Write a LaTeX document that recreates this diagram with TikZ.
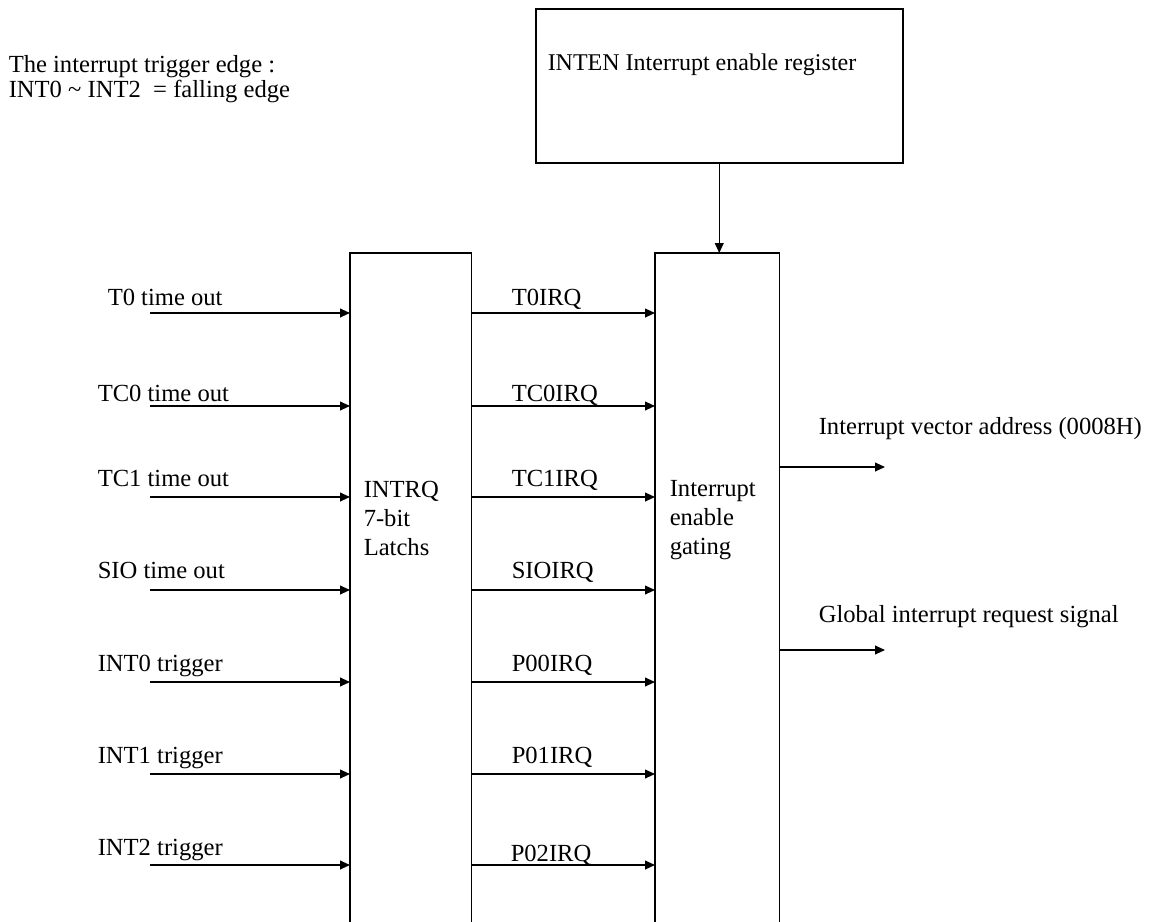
\documentclass[tikz,border=0pt]{standalone}
\usepackage{fontspec}
\setmainfont{Liberation Serif}
\usetikzlibrary{arrows.meta}
\begin{document}
\begin{tikzpicture}[x=0.5pt,y=-0.5pt,
  line width=0.75pt,
  arr/.style={-{Triangle[length=5pt,width=4.4pt]}},
  lbl/.style={anchor=base west, inner sep=0pt, font=\fontsize{12.3}{12.3}\selectfont},
  blk/.style={draw=none, inner sep=0pt, anchor=north west, minimum height=334pt},
  boxtxt/.style={anchor=north west, inner sep=0pt, align=left, font=\fontsize{12.3}{14.5}\selectfont}]
\useasboundingbox (0,0) rectangle (1151,921);

% top-left note
\node[lbl] (note1) at (8,72) {The interrupt trigger edge :};
\node[lbl] (note2) at (8,97) {INT0 \textasciitilde{} INT2\ \ = falling edge};

% INTEN register
\node[draw, anchor=north west, inner sep=0pt, minimum width=183.5pt, minimum height=77pt] (inten) at (535,8) {};
\node[lbl, font=\fontsize{12}{12}\selectfont] (intentxt) at (547,70) {INTEN Interrupt enable register};

% tall blocks (open at the bottom)
\node[blk, minimum width=60pt] (latch) at (350,253) {};
\node[blk, minimum width=61.5pt] (gate) at (655,253) {};
\draw (latch.south west) -- (latch.north west) -- (latch.north east) -- (latch.south east);
\draw (gate.south west) -- (gate.north west) -- (gate.north east) -- (gate.south east);
\node[boxtxt] (latchtxt) at (363,480) {INTRQ\\7-bit\\Latchs};
\node[boxtxt] (gatetxt) at (669,480) {Interrupt\\enable\\gating};

\draw[arr] (inten.south) -- (inten.south |- gate.north);

% input rows
\foreach \n/\ay/\lx/\ly/\ltxt/\mx/\my/\mtxt in {
  1/313/107/305/T0 time out/511/305/T0IRQ,
  2/406/97/401/TC0 time out/511/401/TC0IRQ,
  3/497/97/486/TC1 time out/511/486/TC1IRQ,
  4/590/97/578/SIO time out/511/578/SIOIRQ,
  5/682/97/671/INT0 trigger/511/671/P00IRQ,
  6/774/97/763/INT1 trigger/511/763/P01IRQ,
  7/865/97/855/INT2 trigger/510/861/P02IRQ}{
  \coordinate (s\n) at (150,\ay);
  \draw[arr] (s\n) -- (s\n -| latch.west);
  \draw[arr] (s\n -| latch.east) -- (s\n -| gate.west);
  \node[lbl] (in\n) at (\lx,\ly) {\ltxt};
  \node[lbl] (irq\n) at (\mx,\my) {\mtxt};
}

% outputs
\coordinate (o1) at (885,467);
\coordinate (o2) at (885,650);
\draw[arr] (o1 -| gate.east) -- (o1);
\draw[arr] (o2 -| gate.east) -- (o2);
\node[lbl] (out1) at (818,434) {Interrupt vector address (0008H)};
\node[lbl] (out2) at (818,622) {Global interrupt request signal};
\end{tikzpicture}
\end{document}
